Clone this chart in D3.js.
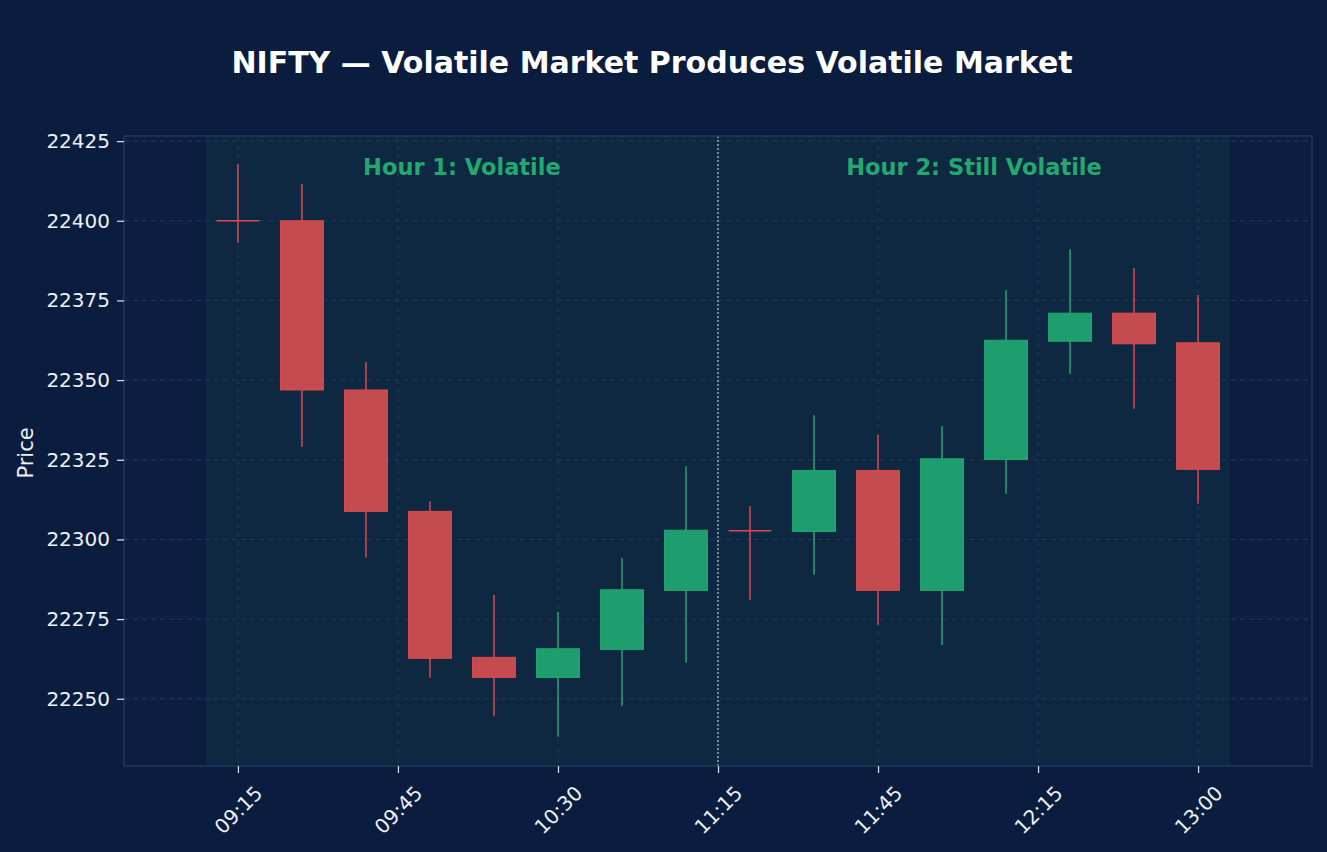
<!DOCTYPE html>
<html>
<head>
<meta charset="utf-8">
<script src="https://cdn.jsdelivr.net/npm/d3@7"></script>
<style>
  body { margin: 0; background: #0b1d3e; }
  svg { display: block; }
  text { font-family: "DejaVu Sans", sans-serif; }
</style>
</head>
<body>
<svg id="chart" width="1327" height="852"></svg>
<script>
// candle data (15 min bars)
let times = ["09:15","09:30","09:45","10:00","10:15","10:30","10:45","11:00",
             "11:15","11:30","11:45","12:00","12:15","12:30","12:45","13:00"];
let opens  = [22400.0, 22400.0, 22346.9, 22308.8, 22263.0, 22256.7, 22265.5, 22284.0,
              22302.7, 22302.5, 22321.6, 22284.0, 22325.1, 22362.2, 22371.0, 22361.7];
let highs  = [22417.8, 22411.5, 22355.7, 22312.0, 22282.6, 22277.2, 22294.2, 22323.0,
              22310.5, 22339.0, 22332.8, 22335.6, 22378.3, 22391.1, 22385.2, 22376.7];
let lows   = [22393.1, 22329.1, 22294.3, 22256.6, 22244.7, 22238.1, 22247.8, 22261.3,
              22281.1, 22288.9, 22273.2, 22266.9, 22314.3, 22352.0, 22341.0, 22311.2];
let closes = [22400.0, 22346.9, 22308.8, 22262.7, 22256.7, 22265.7, 22284.2, 22302.9,
              22302.7, 22321.6, 22284.0, 22325.3, 22362.5, 22371.0, 22361.4, 22322.0];

let tickPos = [0, 2.5, 5, 7.5, 10, 12.5, 15];
let tickLabels = ["09:15", "09:45", "10:30", "11:15", "11:45", "12:15", "13:00"];
let yTicks = [22250, 22275, 22300, 22325, 22350, 22375, 22400, 22425];

let zones = [
  { label: "Hour 1: Volatile", from: -0.5, to: 7.5 },
  { label: "Hour 2: Still Volatile", from: 7.5, to: 15.5 }
];

let up = "#1e9e6e", upEdge = "#22a870";
let down = "#c44c50", downEdge = "#e0484c";

let svg = d3.select("#chart");
let plotL = 124, plotR = 1312, plotT = 136, plotB = 766;

let xScale = d3.scaleLinear().domain([-1.78, 16.78]).range([plotL, plotR]);
let yScale = d3.scaleLinear().domain([22228.9, 22426.6]).range([plotB, plotT]);

// plot background
svg.append("rect")
  .attr("x", plotL).attr("y", plotT)
  .attr("width", plotR - plotL).attr("height", plotB - plotT)
  .attr("fill", "#0c1e40");

// shaded session
svg.append("rect")
  .attr("x", xScale(-0.5)).attr("y", plotT)
  .attr("width", xScale(15.5) - xScale(-0.5)).attr("height", plotB - plotT)
  .attr("fill", "#0d2840");

// grid
svg.append("g").selectAll("line").data(yTicks).join("line")
  .attr("x1", plotL).attr("x2", plotR)
  .attr("y1", d => yScale(d)).attr("y2", d => yScale(d))
  .attr("stroke", "#1f3a5c").attr("stroke-width", 1).attr("stroke-dasharray", "5,4");
svg.append("g").selectAll("line").data(tickPos).join("line")
  .attr("x1", d => xScale(d)).attr("x2", d => xScale(d))
  .attr("y1", plotT).attr("y2", plotB)
  .attr("stroke", "#1f3a5c").attr("stroke-width", 1).attr("stroke-dasharray", "5,4");

// divider between hours
svg.append("line")
  .attr("x1", xScale(7.5)).attr("x2", xScale(7.5))
  .attr("y1", plotT).attr("y2", plotB)
  .attr("stroke", "#a9bccb").attr("stroke-width", 1.3).attr("stroke-dasharray", "2,2");

// zone labels
svg.append("g").selectAll("text").data(zones).join("text")
  .attr("x", d => xScale((d.from + d.to) / 2))
  .attr("y", 175)
  .attr("text-anchor", "middle")
  .attr("fill", "#22a870")
  .attr("font-size", 22.5)
  .attr("font-weight", "bold")
  .text(d => d.label);

// candles
let idx = d3.range(times.length);
let bodyW = xScale(0.67) - xScale(0);

let candles = svg.append("g").selectAll("g").data(idx).join("g");

candles.append("line")
  .attr("x1", i => xScale(i)).attr("x2", i => xScale(i))
  .attr("y1", i => yScale(highs[i])).attr("y2", i => yScale(lows[i]))
  .attr("stroke", i => closes[i] > opens[i] ? upEdge : downEdge)
  .attr("stroke-width", 1.5);

candles.filter(i => Math.abs(closes[i] - opens[i]) > 0.5)
  .append("rect")
  .attr("x", i => xScale(i) - bodyW / 2)
  .attr("width", bodyW)
  .attr("y", i => yScale(Math.max(opens[i], closes[i])))
  .attr("height", i => yScale(Math.min(opens[i], closes[i])) - yScale(Math.max(opens[i], closes[i])))
  .attr("fill", i => closes[i] > opens[i] ? up : down)
  .attr("stroke", i => closes[i] > opens[i] ? upEdge : downEdge)
  .attr("stroke-width", 1);

// doji
candles.filter(i => Math.abs(closes[i] - opens[i]) <= 0.5)
  .append("line")
  .attr("x1", i => xScale(i) - bodyW / 2).attr("x2", i => xScale(i) + bodyW / 2)
  .attr("y1", i => yScale(opens[i])).attr("y2", i => yScale(opens[i]))
  .attr("stroke", downEdge).attr("stroke-width", 1.5);

// frame
svg.append("rect")
  .attr("x", plotL).attr("y", plotT)
  .attr("width", plotR - plotL).attr("height", plotB - plotT)
  .attr("fill", "none").attr("stroke", "#22375c").attr("stroke-width", 1.5);

// y axis
let yAxis = d3.axisLeft(yScale).tickValues(yTicks).tickFormat(d3.format("d")).tickSize(7).tickPadding(7);
let yAxisGroup = svg.append("g")
  .attr("transform", `translate(${plotL},0)`)
  .call(yAxis);
yAxisGroup.select(".domain").remove();
yAxisGroup.selectAll(".tick line").attr("stroke", "#e0e4ea").attr("stroke-width", 1.2);
yAxisGroup.selectAll(".tick text")
  .attr("fill", "#eef0f4").attr("font-size", 20).attr("font-family", "DejaVu Sans, sans-serif");

// x axis
let xAxis = d3.axisBottom(xScale).tickValues(tickPos).tickFormat((d, i) => tickLabels[i]).tickSize(7);
let xAxisGroup = svg.append("g")
  .attr("transform", `translate(0,${plotB})`)
  .call(xAxis);
xAxisGroup.select(".domain").remove();
xAxisGroup.selectAll(".tick line").attr("stroke", "#e0e4ea").attr("stroke-width", 1.2);
xAxisGroup.selectAll(".tick text")
  .attr("fill", "#eef0f4").attr("font-size", 20).attr("font-family", "DejaVu Sans, sans-serif")
  .attr("text-anchor", "middle")
  .attr("dy", null)
  .attr("y", 44)
  .attr("dominant-baseline", "central")
  .attr("transform", "rotate(-45, 0, 44)");

// y label
svg.append("text")
  .attr("transform", "translate(33,453) rotate(-90)")
  .attr("text-anchor", "middle")
  .attr("fill", "#eef0f4")
  .attr("font-size", 21)
  .text("Price");

// title
svg.append("text")
  .attr("x", 652).attr("y", 73)
  .attr("text-anchor", "middle")
  .attr("fill", "#ffffff")
  .attr("font-size", 30)
  .attr("font-weight", "bold")
  .text("NIFTY \u2014 Volatile Market Produces Volatile Market");
</script>
</body>
</html>
